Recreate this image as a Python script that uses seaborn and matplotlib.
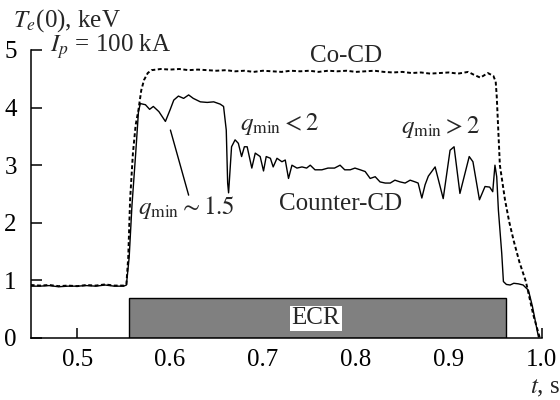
import numpy as np
import pandas as pd
import matplotlib
matplotlib.use("Agg")
import matplotlib.pyplot as plt
import seaborn as sns

# Central electron temperature vs time, co- and counter-current drive
t_co = [0.450, 0.460, 0.470, 0.480, 0.490, 0.500, 0.510, 0.520, 0.530, 0.540,
        0.550, 0.553, 0.555, 0.557, 0.560, 0.563, 0.566, 0.569, 0.572, 0.576,
        0.580, 0.590, 0.600, 0.610, 0.620, 0.630, 0.640, 0.650, 0.660, 0.670,
        0.680, 0.690, 0.700, 0.710, 0.720, 0.730, 0.740, 0.750, 0.760, 0.770,
        0.780, 0.790, 0.800, 0.810, 0.820, 0.830, 0.840, 0.850, 0.860, 0.870,
        0.880, 0.890, 0.900, 0.910, 0.921, 0.927, 0.934, 0.942, 0.948, 0.9505,
        0.9516, 0.955, 0.9605, 0.965, 0.970, 0.976, 0.983, 0.991, 0.998]
te_co = [0.92, 0.91, 0.92, 0.90, 0.91, 0.90, 0.92, 0.91, 0.93, 0.91,
         0.91, 0.93, 1.40, 2.40, 3.20, 3.70, 3.96, 4.30, 4.48, 4.60,
         4.65, 4.67, 4.66, 4.67, 4.65, 4.66, 4.65, 4.64, 4.65, 4.63,
         4.64, 4.62, 4.64, 4.63, 4.62, 4.64, 4.63, 4.64, 4.62, 4.64,
         4.63, 4.64, 4.62, 4.63, 4.64, 4.62, 4.61, 4.62, 4.60, 4.61,
         4.59, 4.60, 4.61, 4.59, 4.62, 4.57, 4.52, 4.60, 4.55, 4.45,
         4.20, 3.00, 2.40, 2.02, 1.68, 1.32, 0.98, 0.40, 0.00]

t_ctr = [0.450, 0.460, 0.470, 0.480, 0.490, 0.500, 0.510, 0.520, 0.530, 0.540,
         0.550, 0.553, 0.556, 0.559, 0.563, 0.566, 0.568, 0.5735, 0.578, 0.582,
         0.588, 0.595, 0.600, 0.604, 0.609, 0.6146, 0.620, 0.625, 0.6326, 0.640,
         0.647, 0.654, 0.6576, 0.6605, 0.662, 0.663, 0.6662, 0.670, 0.6735, 0.677,
         0.680, 0.683, 0.688, 0.6917, 0.697, 0.7006, 0.7035, 0.708, 0.711, 0.7151,
         0.7204, 0.724, 0.7275, 0.7312, 0.7366, 0.742, 0.747, 0.7509, 0.756, 0.7634,
         0.770, 0.777, 0.783, 0.788, 0.7939, 0.799, 0.8047, 0.810, 0.8154, 0.8208,
         0.826, 0.8316, 0.837, 0.842, 0.8476, 0.853, 0.8584, 0.8638, 0.867, 0.871,
         0.8745, 0.878, 0.8853, 0.894, 0.9014, 0.9057, 0.912, 0.922, 0.926, 0.933,
         0.939, 0.944, 0.9473, 0.9497, 0.9516, 0.9534, 0.957, 0.9588, 0.962, 0.966,
         0.970, 0.975, 0.980, 0.9857, 0.990, 0.9965]
te_ctr = [0.90, 0.90, 0.91, 0.89, 0.90, 0.90, 0.91, 0.90, 0.92, 0.90,
          0.90, 0.92, 1.40, 2.30, 3.20, 3.93, 4.07, 4.05, 3.97, 4.02,
          3.93, 3.76, 3.96, 4.13, 4.20, 4.16, 4.22, 4.16, 4.10, 4.09,
          4.10, 4.06, 4.02, 3.61, 2.69, 2.52, 3.32, 3.44, 3.38, 3.15,
          3.32, 3.32, 2.95, 3.21, 3.15, 2.90, 3.15, 3.12, 2.97, 3.12,
          3.06, 3.09, 2.77, 3.00, 2.95, 2.97, 2.95, 3.00, 2.92, 2.92,
          2.95, 2.95, 3.00, 2.92, 2.92, 2.95, 2.92, 2.89, 2.77, 2.80,
          2.71, 2.69, 2.69, 2.74, 2.71, 2.69, 2.74, 2.71, 2.69, 2.43,
          2.66, 2.81, 2.97, 2.42, 3.26, 3.32, 2.51, 3.15, 3.06, 2.40,
          2.63, 2.62, 2.54, 3.00, 2.80, 2.22, 1.47, 0.98, 0.93, 0.92,
          0.95, 0.94, 0.92, 0.83, 0.55, 0.02]

# ECR heating window
ecr_start, ecr_end, ecr_level = 0.5555, 0.9615, 0.69

x_ticks = [0.5, 0.6, 0.7, 0.8, 0.9, 1.0]
x_tick_labels = ["0.5", "0.6", "0.7", "0.8", "0.9", "1.0"]
y_ticks = [0, 1, 2, 3, 4, 5]

sns.set_theme(style="ticks")
plt.rcParams["font.family"] = ["Liberation Serif", "DejaVu Serif"]
plt.rcParams["mathtext.fontset"] = "stix"
plt.rcParams["axes.linewidth"] = 1.1

fig = plt.figure(figsize=(5.6, 4.0), dpi=100)
ax = fig.add_axes([0.0548, 0.155, 0.9125, 0.72])

df_co = pd.DataFrame({"t": t_co, "Te": te_co})
df_ctr = pd.DataFrame({"t": t_ctr, "Te": te_ctr})

# ECR bar
ax.bar(ecr_start, ecr_level, width=ecr_end - ecr_start, align="edge",
       color="#808080", edgecolor="black", linewidth=1.0, zorder=1)

sns.lineplot(data=df_co, x="t", y="Te", ax=ax, color="black", lw=1.4,
             estimator=None, sort=False, zorder=3, linestyle=(0, (2.0, 1.3)))
sns.lineplot(data=df_ctr, x="t", y="Te", ax=ax, color="black", lw=1.0,
             estimator=None, sort=False, zorder=3)

ax.set_xlim(0.45, 1.0)
ax.set_ylim(0, 5)
ax.set_xticks(x_ticks)
ax.set_xticklabels(x_tick_labels)
ax.set_yticks(y_ticks)
ax.tick_params(axis="both", direction="in", labelsize=18, colors="black",
               width=1.1, pad=8)
ax.tick_params(axis="y", length=8, pad=10)
ax.tick_params(axis="x", length=7, pad=8)
ax.set_xlabel("")
ax.set_ylabel("")
sns.despine(ax=ax)
for s in ("left", "bottom"):
    ax.spines[s].set_color("black")

fs = 18
ax.text(0.757, ecr_level / 2, "ECR", fontsize=fs,
        ha="center", va="center", zorder=4,
        bbox=dict(facecolor="white", edgecolor="none", pad=1.0))
ax.text(0.4713, 4.97, r"$I_p$ = 100 kA", fontsize=fs, va="baseline")
ax.text(0.751, 4.80, "Co-CD", fontsize=fs, va="baseline")
ax.text(0.6758, 3.61, r"$q_{\rm min} < 2$", fontsize=fs, va="baseline")
ax.text(0.849, 3.56, r"$q_{\rm min} > 2$", fontsize=fs, va="baseline")
ax.text(0.7168, 2.22, "Counter-CD", fontsize=fs, va="baseline")
ax.text(0.566, 2.15, r"$q_{\rm min} \sim 1.5$", fontsize=fs, va="baseline")
ax.plot([0.6004, 0.620], [3.61, 2.48], color="black", lw=1.0)

fig.text(0.024, 0.9325, r"$T_e$(0), keV", fontsize=fs, va="baseline")
fig.text(0.946, 0.0175, r"$t$, s", fontsize=fs, va="baseline")

fig.savefig("out.png", dpi=100, facecolor="white")
